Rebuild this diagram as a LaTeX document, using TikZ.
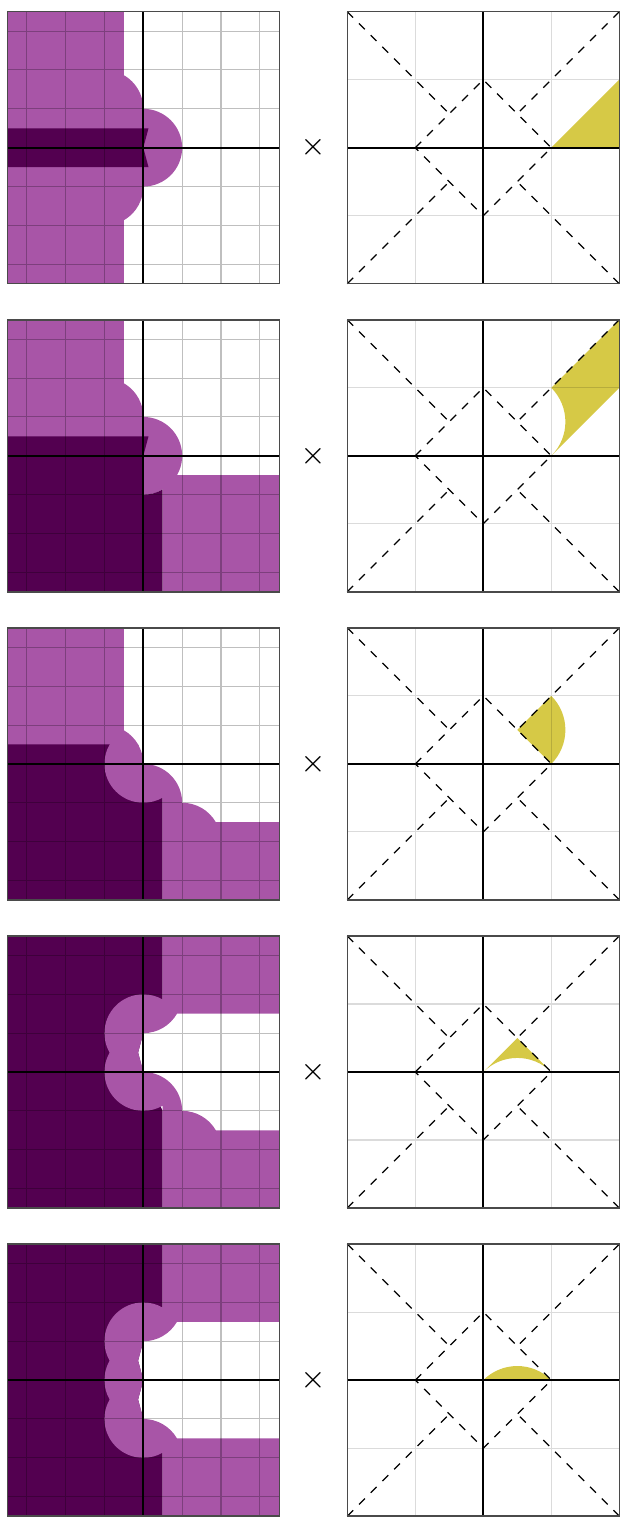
\documentclass[tikz,border=0pt]{standalone}
\definecolor{hell}{HTML}{A855A7}
\definecolor{dunkel}{HTML}{530050}
\definecolor{gelb}{HTML}{D6C946}
\definecolor{rahmengrau}{HTML}{4A4A4A}
% Gitter, Achsen und Rahmen der beiden Felder (im Koordinatensystem des Feldes)
\newcommand\feldlinks{%
  \draw[gitter] (-3.5,-3.5) grid (3.5,3.5);
  \draw[achse] (-3.5,0) -- (3.5,0) (0,-3.5) -- (0,3.5);
  \draw[rahmen] (-3.5,-3.5) rectangle (3.5,3.5);}
\newcommand\feldrechts{%
  \draw[gitterfein] (-2,-2) grid (2,2);
  \draw[kegel] (-2,2) -- (-0.5,0.5) (-2,-2) -- (-0.5,-0.5) (2,2) -- (0.5,0.5) (2,-2) -- (0.5,-0.5)
    (-1,0) -- (0,1) -- (1,0) -- (0,-1) -- cycle;
  \draw[achse] (-2,0) -- (2,0) (0,-2) -- (0,2);
  \draw[rahmen] (-2,-2) rectangle (2,2);}
\newcommand\sektor[4][hell]{\fill[#1] (#2) -- ++(#3:1) arc[start angle=#3,end angle=#4,radius=1] -- cycle;}

\begin{document}
\begin{tikzpicture}[x=0.085mm,y=-0.085mm]
\useasboundingbox (0,0) rectangle (621,1517);
\tikzset{gitter/.style={black,opacity=0.25,line width=0.25pt,step=1},
  gitterfein/.style={black,opacity=0.14,line width=0.25pt,step=1},
  achse/.style={black,line width=0.5pt},
  rahmen/.style={rahmengrau,line width=0.35pt},
  kegel/.style={black,line width=0.3pt,dash pattern=on 2pt off 2pt},
  links/.style={shift={(143.3,#1)},x=3.303mm,y=3.303mm},
  rechts/.style={shift={(483.3,#1)},x=5.78mm,y=5.78mm},
  mal/.style={inner sep=0,font=\fontsize{7}{8}\selectfont}}

% ---- Zeile 1 -----------------------------------------------------------------
\begin{scope}[links=147.7]
\fill[hell] (-3.5,-3.5) rectangle (-0.5,3.5);
\fill[hell] (-1,1) circle[radius=1];
\fill[hell] (-1,-1) circle[radius=1];
\fill[hell] (0,0) circle[radius=1];
\fill[dunkel] (-3.5,0.5) -- (0.134,0.5) -- (0,0) -- (0.134,-0.5) -- (-3.5,-0.5) -- cycle;
\feldlinks
\end{scope}
\node[mal] (mal1) at (313.5,147.7) {$\times$};
\begin{scope}[rechts=147.7]
\fill[gelb] (1,0) -- (2,0) -- (2,1) -- cycle;
\feldrechts
\end{scope}

% ---- Zeile 2 -----------------------------------------------------------------
\begin{scope}[links=455.8]
\fill[hell] (-3.5,0) rectangle (-0.5,3.5);
\fill[hell] (-1,1) circle[radius=1];
\fill[hell] (0,0) circle[radius=1];
\fill[hell] (0.5,-3.5) rectangle (3.5,-0.5);
\fill[dunkel] (-3.5,0.5) -- (0.134,0.5) -- (0,0) -- (0,-1)
  arc[start angle=-90,end angle=-60,radius=1] -- (0.5,-3.5) -- (-3.5,-3.5) -- cycle;
\feldlinks
\end{scope}
\node[mal] (mal2) at (313.5,455.8) {$\times$};
\begin{scope}[rechts=455.8]
\fill[gelb] (1,0) arc[start angle=-45,end angle=45,radius=0.7071] -- (2,2) -- (2,1) -- cycle;
\feldrechts
\end{scope}

% ---- Zeile 3 -----------------------------------------------------------------
\begin{scope}[links=763.9]
\fill[hell] (-3.5,0) rectangle (-0.5,3.5);
\fill[dunkel] (-3.5,0.5) -- (-0.134,0.5) -- (0,0) -- (0.5,-0.866) -- (0.5,-3.5) -- (-3.5,-3.5) -- cycle;
% Scheibe links der Achse, oben vom Kreis um (-1,0) begrenzt
\fill[hell] (0,-1) arc[start angle=270,end angle=120,radius=1] arc[start angle=60,end angle=0,radius=1]
  -- cycle;
% unten rechts: Buckel der Kreise um (0,-1) und (1,-2)
\fill[hell] (0,0) arc[start angle=90,end angle=0,radius=1] arc[start angle=90,end angle=30,radius=1]
  -- (3.5,-1.5) -- (3.5,-3.5) -- (0.5,-3.5) -- (0.5,-0.866)
  arc[start angle=-60,end angle=-90,radius=1] -- cycle;
\feldlinks
\end{scope}
\node[mal] (mal3) at (313.5,763.9) {$\times$};
\begin{scope}[rechts=763.9]
\fill[gelb] (0.5,0.5) -- (1,0) arc[start angle=-45,end angle=45,radius=0.7071] -- cycle;
\feldrechts
\end{scope}

% ---- Zeile 4 -----------------------------------------------------------------
\begin{scope}[links=1072.0]
\fill[dunkel] (-3.5,3.5) -- (0.5,3.5) -- (0.5,1.5) -- (0,1) -- (-0.134,0.5) -- (0,0)
  -- (0.5,-1) -- (0.5,-3.5) -- (-3.5,-3.5) -- cycle;
\sektor{0,1}{90}{255}
\sektor{0,0}{105}{270}
\fill[hell] (0,1) arc[start angle=-90,end angle=-30,radius=1] -- (3.5,1.5) -- (3.5,3.5) -- (0.5,3.5)
  -- (0.5,1.866) arc[start angle=60,end angle=90,radius=1] -- cycle;
\fill[hell] (0,0) arc[start angle=90,end angle=0,radius=1] arc[start angle=90,end angle=30,radius=1]
  -- (3.5,-1.5) -- (3.5,-3.5) -- (0.5,-3.5) -- (0.5,-0.866)
  arc[start angle=-60,end angle=-90,radius=1] -- cycle;
\feldlinks
\end{scope}
\node[mal] (mal4) at (313.5,1072.0) {$\times$};
\begin{scope}[rechts=1072.0]
\fill[gelb] (0,0) -- (0.5,0.5) -- (1,0) arc[start angle=45,end angle=135,radius=0.7071] -- cycle;
\feldrechts
\end{scope}

% ---- Zeile 5 -----------------------------------------------------------------
\begin{scope}[links=1380.1]
\fill[dunkel] (-3.5,3.5) -- (0.5,3.5) -- (0.5,1.5) -- (0,1) -- (-0.134,0.5) -- (0,0)
  -- (-0.134,-0.5) -- (0,-1) -- (0.5,-1.5) -- (0.5,-3.5) -- (-3.5,-3.5) -- cycle;
\sektor{0,1}{90}{255}
\sektor{0,0}{105}{255}
\sektor{0,-1}{105}{270}
\fill[hell] (0,1) arc[start angle=-90,end angle=-30,radius=1] -- (3.5,1.5) -- (3.5,3.5) -- (0.5,3.5)
  -- (0.5,1.866) arc[start angle=60,end angle=90,radius=1] -- cycle;
\fill[hell] (0,-1) arc[start angle=90,end angle=30,radius=1] -- (3.5,-1.5) -- (3.5,-3.5) -- (0.5,-3.5)
  -- (0.5,-1.866) arc[start angle=-60,end angle=-90,radius=1] -- cycle;
\feldlinks
\end{scope}
\node[mal] (mal5) at (313.5,1380.1) {$\times$};
\begin{scope}[rechts=1380.1]
\fill[gelb] (0,0) -- (1,0) arc[start angle=45,end angle=135,radius=0.7071] -- cycle;
\feldrechts
\end{scope}
\end{tikzpicture}
\end{document}
